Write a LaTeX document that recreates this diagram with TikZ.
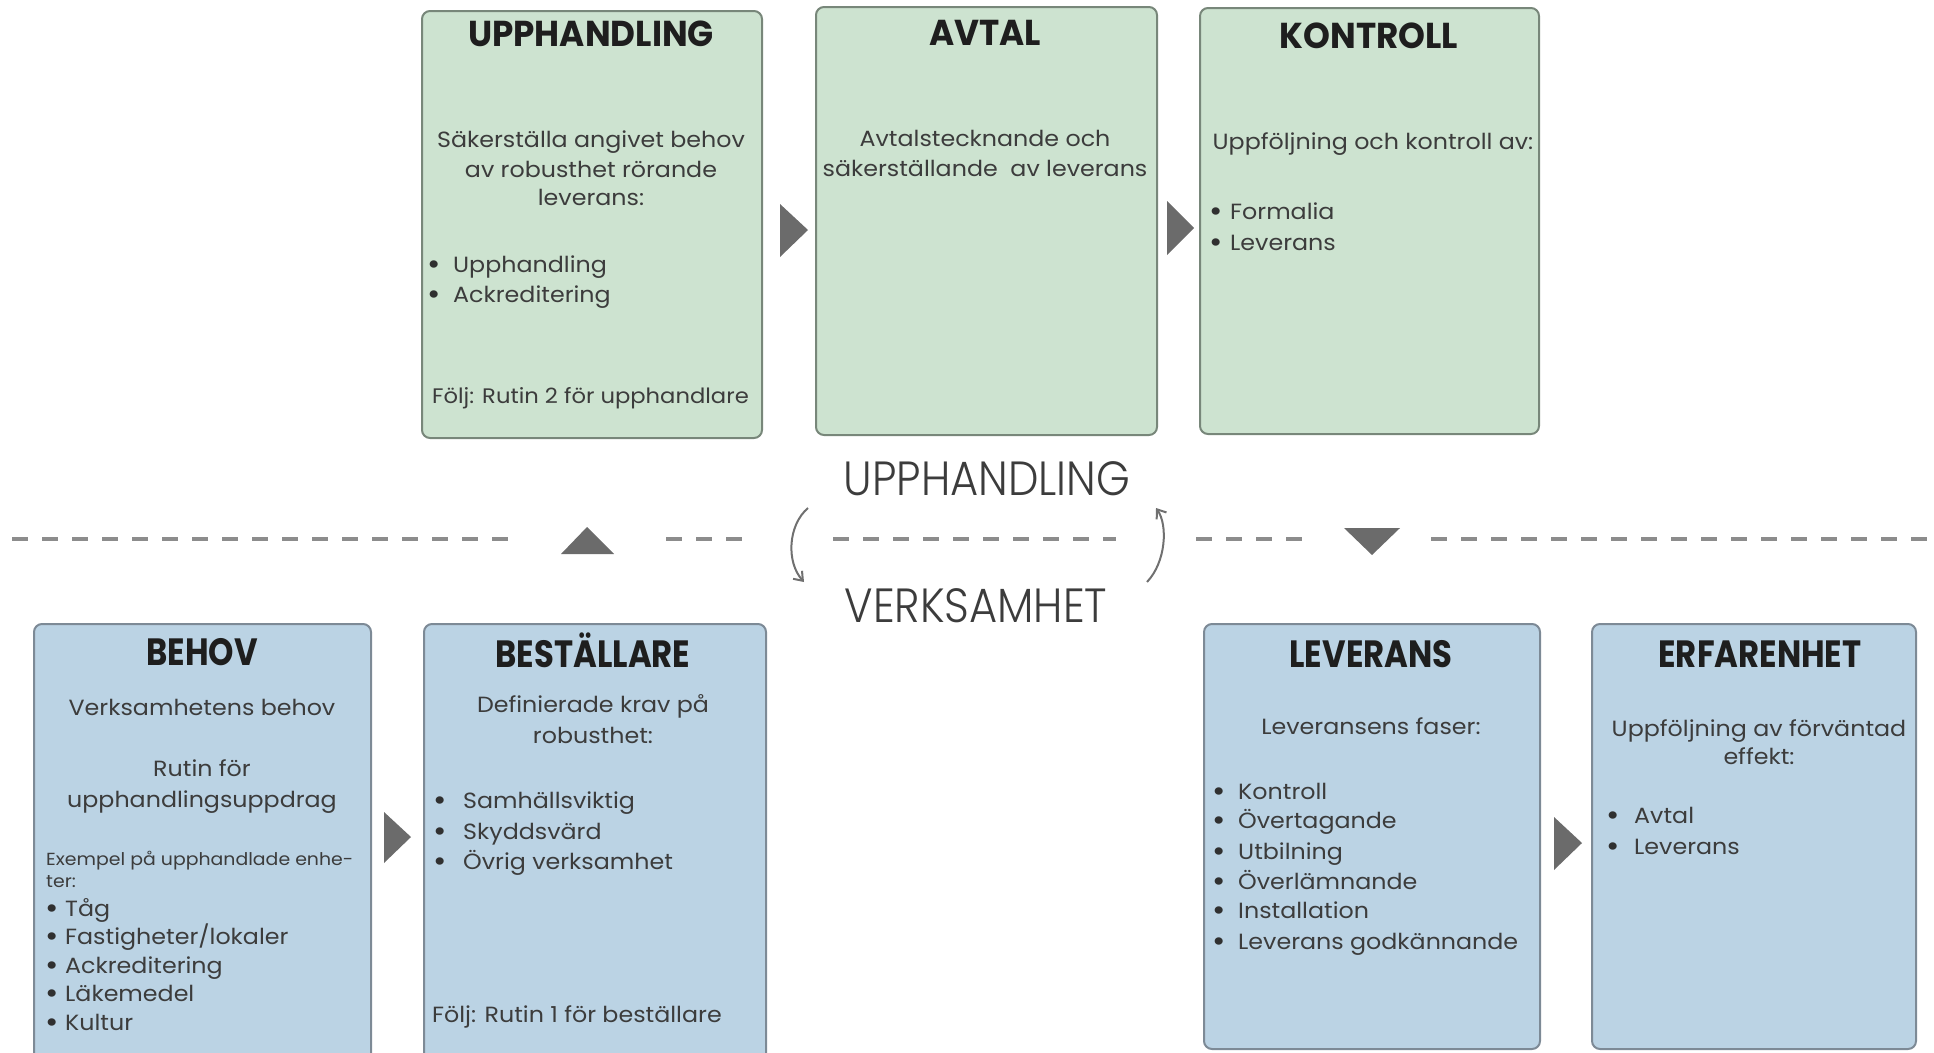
\documentclass[tikz,border=0pt]{standalone}
\usepackage{fontspec}
\setmainfont[FakeStretch=1.08]{Poppins}
\newfontfamily\headfont[FakeStretch=0.95]{Poppins}
\newfontfamily\condfont[FakeStretch=0.85]{Poppins}
\newfontfamily\thinfont[FakeStretch=0.9]{Poppins Light}
\usetikzlibrary{arrows.meta}
\definecolor{gfill}{HTML}{CDE3D0}
\definecolor{gborder}{HTML}{78877A}
\definecolor{bfill}{HTML}{BBD3E4}
\definecolor{bborder}{HTML}{7D8A96}
\definecolor{trigray}{HTML}{6B6B6B}
\definecolor{dashgray}{HTML}{8C8C8C}
\definecolor{txtgray}{HTML}{3C3C3C}
\definecolor{headcol}{HTML}{1E1E1E}
\newcommand\itm[5]{\node[bullet] (#1b) at (#2,#4) {•};\node[body,anchor=mid west] (#1) at (#3,#4) {#5};}
\begin{document}
\begin{tikzpicture}[x=1pt,y=-1pt,
  gbox/.style={draw=gborder,fill=gfill,line width=2pt,rounded corners=8pt,anchor=north west,inner sep=0},
  bbox/.style={draw=bborder,fill=bfill,line width=2pt,rounded corners=8pt,anchor=north west,inner sep=0},
  body/.style={font=\fontsize{22}{26}\selectfont,text=txtgray,inner sep=0,anchor=mid,yshift=-6pt},
  bullet/.style={font=\fontsize{30}{30}\selectfont,text=txtgray!80!black,inner sep=0,anchor=mid,yshift=-8pt},
  small/.style={font=\fontsize{17.5}{20}\selectfont,text=txtgray,inner sep=0,anchor=mid west,yshift=-6pt},
  htop/.style={font=\headfont\bfseries\fontsize{36}{40}\selectfont,text=headcol,inner sep=0,anchor=mid,yshift=-11pt},
  hbot/.style={font=\condfont\bfseries\fontsize{38}{42}\selectfont,text=headcol,inner sep=0,anchor=mid,yshift=-11pt},
  mid label/.style={font=\thinfont\fontsize{48}{52}\selectfont,text=txtgray,inner sep=0,anchor=mid,yshift=-12pt},
  tri/.style={fill=trigray,draw=none},
  dashline/.style={draw=dashgray,line width=3.5pt,dash pattern=on 16pt off 14pt},
  curv/.style={draw=dashgray!80!black,line width=2pt,-{Straight Barb[length=8pt,width=12pt]}}]
\useasboundingbox (0,0) rectangle (1934,1052);
\clip (0,0) rectangle (1934,1052);
% boxes
\node[gbox,minimum width=340,minimum height=427] (up) at (421,10) {};
\node[gbox,minimum width=341,minimum height=428] (av) at (815,6) {};
\node[gbox,minimum width=339,minimum height=426] (ko) at (1199,7) {};
\node[bbox,minimum width=337,minimum height=440] (be) at (33,623) {};
\node[bbox,minimum width=342,minimum height=440] (bs) at (423,623) {};
\node[bbox,minimum width=336,minimum height=425] (le) at (1203,623) {};
\node[bbox,minimum width=324,minimum height=425] (er) at (1591,623) {};
% triangles
\fill[tri] (780,204) -- (808,230) -- (780,257) -- cycle;
\fill[tri] (1167,201) -- (1194,228) -- (1167,255) -- cycle;
\fill[tri] (384,812) -- (411,837) -- (384,863) -- cycle;
\fill[tri] (1554,817) -- (1582,843) -- (1554,870) -- cycle;
\fill[tri] (561,554) -- (587,527) -- (614,554) -- cycle;
\fill[tri] (1344,528) -- (1400,528) -- (1372,555) -- cycle;
% dashed line
\draw[dashline] (12,539) -- (518,539);
\draw[dashline] (666,539) -- (752,539);
\draw[dashline] (833,539) -- (1116,539);
\draw[dashline] (1196,539) -- (1314,539);
\draw[dashline] (1431,539) -- (1934,539);
% curved arrows
\coordinate (la1) at (808,508);
\coordinate (la2) at (804,582);
\coordinate (ra1) at (1147,582);
\coordinate (ra2) at (1156,508);
\draw[curv] (la1) .. controls (788,525) and (786,562) .. (la2);
\draw[curv] (ra1) .. controls (1166,562) and (1168,525) .. (ra2);
% center labels
\node[mid label] (mup) at (987,481) {UPPHANDLING};
\node[mid label] (mverk) at (976,608) {VERKSAMHET};
% UPPHANDLING box
\node[htop] (hup) at (591,33) {UPPHANDLING};
\node[body] (up1) at (591,139) {Säkerställa angivet behov};
\node[body] (up2) at (591,169) {av robusthet rörande};
\node[body] (up3) at (591,197) {leverans:};
\itm{upa}{434}{453}{264}{Upphandling}
\itm{upc}{434}{453}{294}{Ackreditering}
\node[body,anchor=mid west,font=\fontsize{21}{26}\selectfont] (upf) at (432,395) {Följ: Rutin 2 för upphandlare};
% AVTAL box
\node[htop] (hav) at (985,32) {AVTAL};
\node[body] (av1) at (985,138) {Avtalstecknande och};
\node[body] (av2) at (985,168) {säkerställande~~av leverans};
% KONTROLL box
\node[htop] (hko) at (1369,35) {KONTROLL};
\node[body] (ko1) at (1373,141) {Uppföljning och kontroll av:};
\itm{koa}{1216}{1230}{211}{Formalia}
\itm{kob}{1216}{1230}{242}{Leverans}
% BEHOV box
\node[hbot] (hbe) at (202,652) {BEHOV};
\node[body] (be1) at (202,707) {Verksamhetens behov};
\node[body] (be2) at (202,768) {Rutin för};
\node[body] (be3) at (202,799) {upphandlingsuppdrag};
\node[small] (be4) at (46,857) {Exempel på upphandlade enhe-};
\node[small] (be5) at (46,879) {ter:};
\itm{bea}{52}{65}{908}{Tåg}
\itm{beb}{52}{65}{936}{Fastigheter/lokaler}
\itm{bec}{52}{65}{965}{Ackreditering}
\itm{bed}{52}{65}{993}{Läkemedel}
\itm{bee}{52}{65}{1022}{Kultur}
% BESTÄLLARE box
\node[hbot] (hbs) at (593,654) {BESTÄLLARE};
\node[body] (bs1) at (593,704) {Definierade krav på};
\node[body] (bs2) at (593,735) {robusthet:};
\itm{bsa}{440}{463}{800}{Samhällsviktig}
\itm{bsb}{440}{463}{831}{Skyddsvärd}
\itm{bsc}{440}{463}{861}{Övrig verksamhet}
\node[body,anchor=mid west] (bsf) at (432,1014) {Följ: Rutin 1 för beställare};
% LEVERANS box
\node[hbot] (hle) at (1371,654) {LEVERANS};
\node[body] (le1) at (1371,726) {Leveransens faser:};
\itm{lea}{1219}{1238}{791}{Kontroll}
\itm{leb}{1219}{1238}{820}{Övertagande}
\itm{lec}{1219}{1238}{851}{Utbilning}
\itm{led}{1219}{1238}{881}{Överlämnande}
\itm{lee}{1219}{1238}{910}{Installation}
\itm{lef}{1219}{1238}{941}{Leverans godkännande}
% ERFARENHET box
\node[hbot] (her) at (1760,654) {ERFARENHET};
\node[body] (er1) at (1759,728) {Uppföljning av förväntad};
\node[body] (er2) at (1759,756) {effekt:};
\itm{era}{1613}{1634}{815}{Avtal}
\itm{erb}{1613}{1634}{846}{Leverans}
\end{tikzpicture}
\end{document}
